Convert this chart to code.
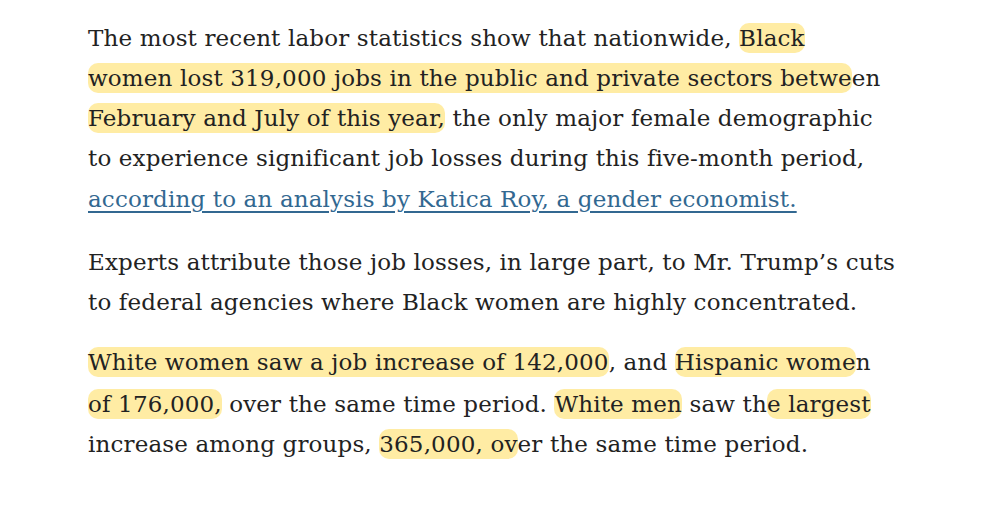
<!DOCTYPE html>
<html><head><meta charset="utf-8">
<script src="https://cdn.jsdelivr.net/npm/chart.js@4"></script>
<style>
html,body{margin:0;padding:0;background:#fff;width:1000px;height:515px;overflow:hidden}
#wrap{position:absolute;left:88px;top:0;font-family:"DejaVu Serif",serif;font-size:23px;letter-spacing:0.15px;color:#222;}
.l{position:absolute;white-space:nowrap;left:0;line-height:40px}
.h{background:rgba(255,221,90,0.55);border-radius:10px;padding:2px 0}
a{color:#326891;text-decoration:underline;text-underline-offset:4px}
</style></head><body>
<div id="wrap"></div>
<script>
const groups=["Black women","White women","Hispanic women","White men"];
const jobChange=[-319000,142000,176000,365000];
const lines=[
 [18,'The most recent labor statistics show that nationwide, <span class="h">Black</span>'],
 [58,'<span class="h">women lost 319,000 jobs in the public and private sectors betwe</span>en'],
 [98,'<span class="h">February and July of this year,</span> the only major female demographic'],
 [138,'to experience significant job losses during this five-month period,'],
 [179,'<a>according to an analysis by Katica Roy, a gender economist.</a>'],
 [242,'Experts attribute those job losses, in large part, to Mr. Trump’s cuts'],
 [282,'to federal agencies where Black women are highly concentrated.'],
 [342,'<span class="h">White women saw a job increase of 142,000</span>, and <span class="h">Hispanic wome</span>n'],
 [384,'<span class="h">of 176,000,</span> over the same time period. <span class="h">White men</span> saw th<span class="h">e largest</span>'],
 [424,'increase among groups, <span class="h">365,000, ov</span>er the same time period.']
];
const w=document.getElementById('wrap');
lines.forEach(([y,t])=>{const d=document.createElement('div');d.className='l';d.style.top=y+'px';d.innerHTML=t;w.appendChild(d);});
</script>
</body></html>
